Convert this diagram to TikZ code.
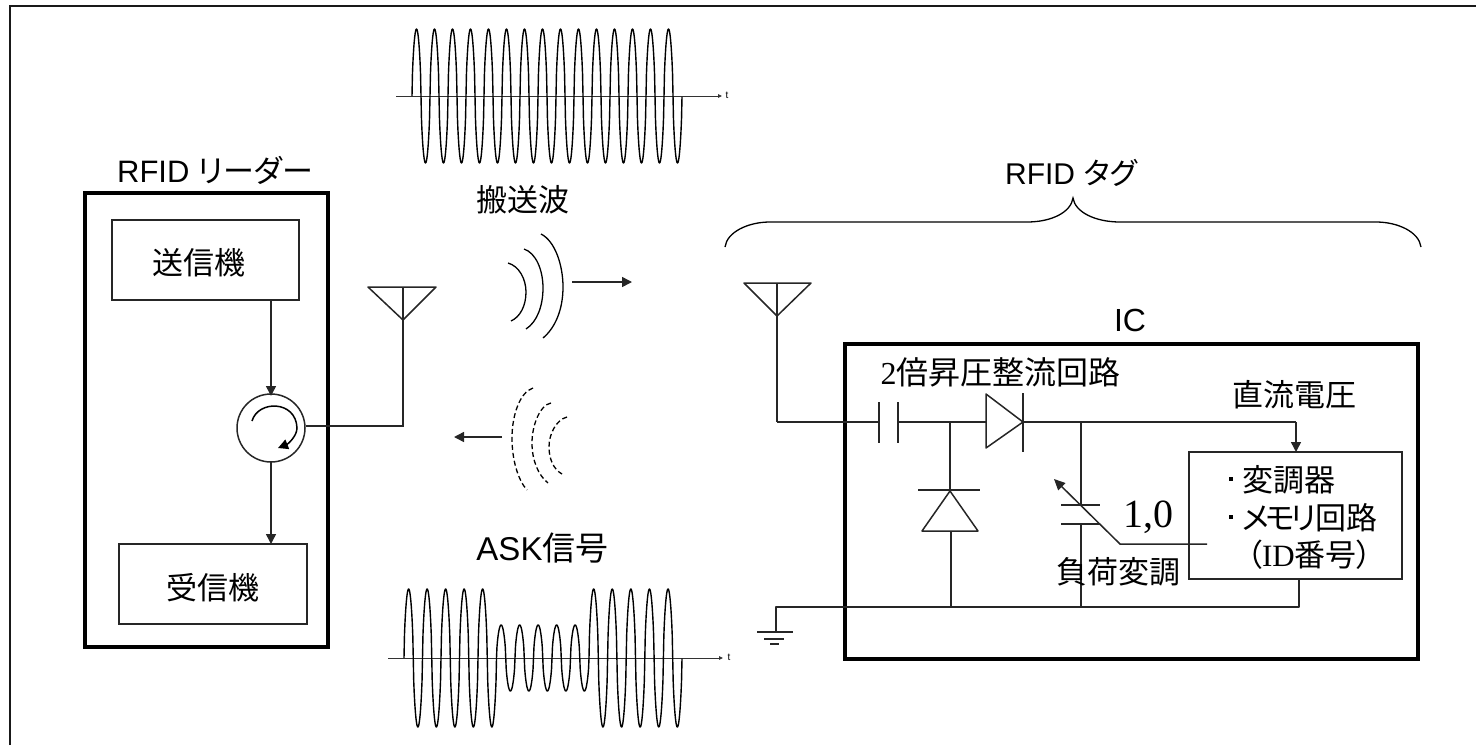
\documentclass[tikz,border=0pt]{standalone}
\usepackage{fontspec}
\setmainfont{Liberation Serif}
\newfontfamily\sa{Liberation Sans}
\newfontfamily\jp[RawFeature=+palt]{Noto Sans CJK JP}
\usetikzlibrary{arrows.meta,calc}
\tikzset{
  thinw/.style={line width=1.5pt,black!85},
  thickbox/.style={draw=black,line width=3.2pt,inner sep=0pt,outer sep=0pt,fill=none},
  thinbox/.style={draw=black!85,line width=1.6pt,inner sep=0pt,outer sep=0pt,fill=none},
  lbl/.style={inner sep=0pt,outer sep=0pt,font=\jp\fontsize{31}{31}\selectfont},
  arr/.style={thinw,-{Triangle[length=10pt,width=10pt]}},
  sarr/.style={black!80,line width=0.9pt,-{Triangle[length=4pt,width=3.5pt]}},
  wave/.style={line width=1.4pt,black,line join=round},
  curveS/.style={line width=1.3pt,black},
  curveD/.style={line width=1.3pt,black,dash pattern=on 5pt off 3pt},
  gnd/.style={line width=1.5pt,black!85},
}
\begin{document}
\begin{tikzpicture}[x=1pt,y=-1pt]
\useasboundingbox (0,0) rectangle (1476,745);
% outer frame
\coordinate (f1) at (10,745);\coordinate (f2) at (10,6);\coordinate (f3) at (1476,6);
\draw[line width=2pt,black!90] (f1) -- (f2) -- (f3);

% carrier waveform
\coordinate (ax1s) at (396,96);\coordinate (ax1e) at (722,96);
\draw[sarr] (ax1s) -- (ax1e);
\node[inner sep=0pt,font=\sa\fontsize{10}{10}\selectfont] (t1) at (727,95) {t};
\draw[wave] plot[domain=0:270,samples=601] ({412+\x},{96-67*sign(sin(\x*20))*pow(abs(sin(\x*20))+0.0001,0.6)});

% ASK waveform
\coordinate (ax2s) at (388,658);\coordinate (ax2e) at (723,658);
\draw[sarr] (ax2s) -- (ax2e);
\node[inner sep=0pt,font=\sa\fontsize{10}{10}\selectfont] (t2) at (729,657) {t};
\draw[wave] plot[domain=0:92.5,samples=201] ({404+\x},{658-69*sign(sin(\x*19.4595))*pow(abs(sin(\x*19.4595))+0.0001,0.6)})
  -- plot[domain=92.5:185,samples=201] ({404+\x},{658-33*sign(sin(\x*19.4595))*pow(abs(sin(\x*19.4595))+0.0001,0.6)})
  -- plot[domain=0:93,samples=201] ({589+\x},{658-69*sign(sin(\x*19.3548))*pow(abs(sin(\x*19.3548))+0.0001,0.6)});

% reader
\node[thickbox,minimum width=243pt,minimum height=454pt] (reader) at (206.5,420) {};
\node[thinbox,minimum width=187pt,minimum height=80pt] (tx) at (205.5,260) {};
\node[thinbox,minimum width=188pt,minimum height=80pt] (rx) at (213,584) {};
\node[lbl] (txl) at (198.5,263) {送信機};
\node[lbl] (rxl) at (212.5,588) {受信機};
\node[inner sep=0pt,font=\sa\fontsize{31}{31}\selectfont] (rdl) at (215,170) {RFID {\jp リーダー}};
\node[draw=black!85,line width=1.5pt,circle,minimum size=68pt,inner sep=0pt,outer sep=0pt] (circ) at (271,428) {};
\draw[arr] (tx.south -| circ.north) -- ([yshift=-2pt]circ.north);
\draw[arr] (circ.south) -- (rx.north -| circ.south);
\coordinate (ca) at (252,421);
\draw[line width=1.5pt,black,-{Triangle[length=10pt,width=10pt]}] (ca) .. controls (258,400) and (296,400) .. (297,428) .. controls (297,436) and (288,444) .. (278,448);
% reader antenna
\coordinate (a1l) at (368,287);\coordinate (a1r) at (436,287);\coordinate (a1t) at (403,320);\coordinate (a1c) at (403,287);\coordinate (a1j) at (403,426);\coordinate (cr) at (306,426);
\draw[thinw,line join=round] (a1l) -- (a1r) -- (a1t) -- cycle;
\draw[thinw] (a1c) -- (a1t) -- (a1j) -- (cr);

% waves
\node[lbl] (carl) at (522.5,200) {搬送波};
\draw[curveS] (508,263) .. controls (519,266) and (526,279) .. (526,292) .. controls (526,306) and (520,317) .. (511,321);
\draw[curveS] (524,249) .. controls (536,253) and (543,270) .. (543,288) .. controls (543,306) and (537,322) .. (526,329);
\draw[curveS] (541,234) .. controls (555,241) and (563,265) .. (563,287) .. controls (563,310) and (555,328) .. (543,338);
\coordinate (w1) at (572,282);\coordinate (w2) at (632,282);
\draw[arr] (w1) -- (w2);
\draw[curveD] (533,388) .. controls (520,392) and (512,415) .. (512,438) .. controls (512,460) and (518,480) .. (527,490);
\draw[curveD] (551,403) .. controls (540,405) and (532,425) .. (532,443) .. controls (532,460) and (538,475) .. (548,483);
\draw[curveD] (567,417) .. controls (556,420) and (549,434) .. (549,447) .. controls (549,458) and (553,469) .. (562,474);
\coordinate (w3) at (502,437);\coordinate (w4) at (454,437);
\draw[arr] (w3) -- (w4);
\node[inner sep=0pt,font=\sa\fontsize{33}{33}\selectfont] (askl) at (542.5,548) {ASK{\jp 信号}};

% brace
\node[inner sep=0pt,font=\sa\fontsize{30}{30}\selectfont] (tagl) at (1071,173) {RFID {\jp タグ}};
\coordinate (b1) at (725,247);\coordinate (b2) at (770,222);\coordinate (b3) at (1027,222);\coordinate (b4) at (1073,198);\coordinate (b5) at (1120,222);\coordinate (b6) at (1376,222);\coordinate (b7) at (1421,247);
\draw[line width=1.3pt,black] (b1) .. controls (727,232) and (748,222) .. (b2) -- (b3) .. controls (1052,222) and (1071,212) .. (b4) .. controls (1075,212) and (1095,222) .. (b5) -- (b6) .. controls (1398,222) and (1419,232) .. (b7);

% tag antenna
\coordinate (a2l) at (744,283);\coordinate (a2r) at (811,283);\coordinate (a2t) at (777,316);\coordinate (a2c) at (777,283);\coordinate (a2j) at (777,422);
\draw[thinw,line join=round] (a2l) -- (a2r) -- (a2t) -- cycle;
\draw[thinw] (a2c) -- (a2t) -- (a2j);

% IC
\node[thickbox,minimum width=573pt,minimum height=315pt] (ic) at (1131.5,501.5) {};
\node[inner sep=0pt,font=\sa\fontsize{32}{32}\selectfont] (icl) at (1130,320) {IC};
\node[inner sep=0pt,font=\fontsize{32}{32}\selectfont] (dbl) at (1000.5,372) {2{\jp 倍昇圧整流回路}};
\node[lbl] (dcl) at (1294,395) {直流電圧};
% series capacitor
\coordinate (c1t) at (879,402);\coordinate (c1b) at (879,443);\coordinate (c2t) at (898,402);\coordinate (c2b) at (898,443);
\coordinate (c1m) at (879,422);\coordinate (c2m) at (898,422);
\draw[thinw] (c1t) -- (c1b);\draw[thinw] (c2t) -- (c2b);
\draw[thinw] (a2j) -- (c1m);
% series diode
\coordinate (d1a) at (986,394);\coordinate (d1b) at (986,448);\coordinate (d1t) at (1023,422);\coordinate (d1m) at (986,422);
\coordinate (d1bt) at (1023,393);\coordinate (d1bb) at (1023,452);
\draw[thinw,line join=round] (d1a) -- (d1t) -- (d1b) -- cycle;
\draw[thinw] (d1bt) -- (d1bb);
\draw[thinw] (c2m) -- (d1m);
% module
\node[thinbox,minimum width=213pt,minimum height=127pt] (mod) at (1295.5,515.5) {};
\coordinate (dcc) at (1296,422);
\draw[thinw] (d1t) -- (dcc);
\draw[arr] (dcc) -- (mod.north -| dcc);
% shunt diode
\coordinate (jn1) at (950,422);\coordinate (d2t) at (950,490);\coordinate (d2bl) at (918,490);\coordinate (d2br) at (980,490);
\coordinate (d2a) at (950,491);\coordinate (d2l) at (922,531);\coordinate (d2r) at (978,531);
\coordinate (d2m) at (951,531);\coordinate (jn2) at (951,607);
\draw[thinw] (jn1) -- (d2t);\draw[thinw] (d2bl) -- (d2br);
\draw[thinw,line join=round] (d2a) -- (d2l) -- (d2r) -- cycle;
\draw[thinw] (d2m) -- (jn2);
% load cap
\coordinate (jc1) at (1081,422);\coordinate (pt) at (1081,505);\coordinate (pb) at (1081,524);\coordinate (jc2) at (1081,607);
\coordinate (ptl) at (1061,505);\coordinate (ptr) at (1100,505);\coordinate (pbl) at (1061,524);\coordinate (pbr) at (1100,524);
\draw[thinw] (jc1) -- (pt);\draw[thinw] (pb) -- (jc2);
\draw[thinw] (ptl) -- (ptr);\draw[thinw] (pbl) -- (pbr);
% ground bus
\coordinate (gt) at (776,632);\coordinate (gc) at (776,607);\coordinate (gr) at (1299,607);
\draw[thinw,line join=round] (gt) -- (gc) -- (gr) -- (mod.south -| gr);
\coordinate (g1l) at (757,632);\coordinate (g1r) at (793,632);\coordinate (g2l) at (764,639);\coordinate (g2r) at (784,639);\coordinate (g3l) at (770,644);\coordinate (g3r) at (779,644);
\draw[gnd] (g1l) -- (g1r);\draw[gnd] (g2l) -- (g2r);\draw[gnd] (g3l) -- (g3r);
% modulation
\coordinate (ms) at (1207,544);\coordinate (mk) at (1120,544);\coordinate (me) at (1054,479);
\draw[thinw,-{Triangle[length=11pt,width=10pt]}] (ms) -- (mk) -- (me);
\node[inner sep=0pt,font=\fontsize{40}{40}\selectfont] (ten) at (1148.5,517) {1,0};
\node[lbl] (lm) at (1118,572) {負荷変調};
\node[inner sep=0pt,anchor=west,font=\jp\fontsize{31}{31}\selectfont] (m1) at (1242,480) {変調器};
\node[inner sep=0pt,anchor=west,font=\jp\fontsize{31}{31}\selectfont] (m2) at (1242,518) {メ\kern-4pt モ\kern-4pt リ\kern-1pt 回路};
\node[inner sep=0pt,minimum size=4pt,fill=black] (b1d) at (1231,479) {};
\node[inner sep=0pt,minimum size=4pt,fill=black] (b2d) at (1231,517) {};
\node[inner sep=0pt,font=\fontsize{31}{31}\selectfont] (m3) at (1309.5,555) {{\jp （}ID{\jp 番号）}};
\end{tikzpicture}
\end{document}
